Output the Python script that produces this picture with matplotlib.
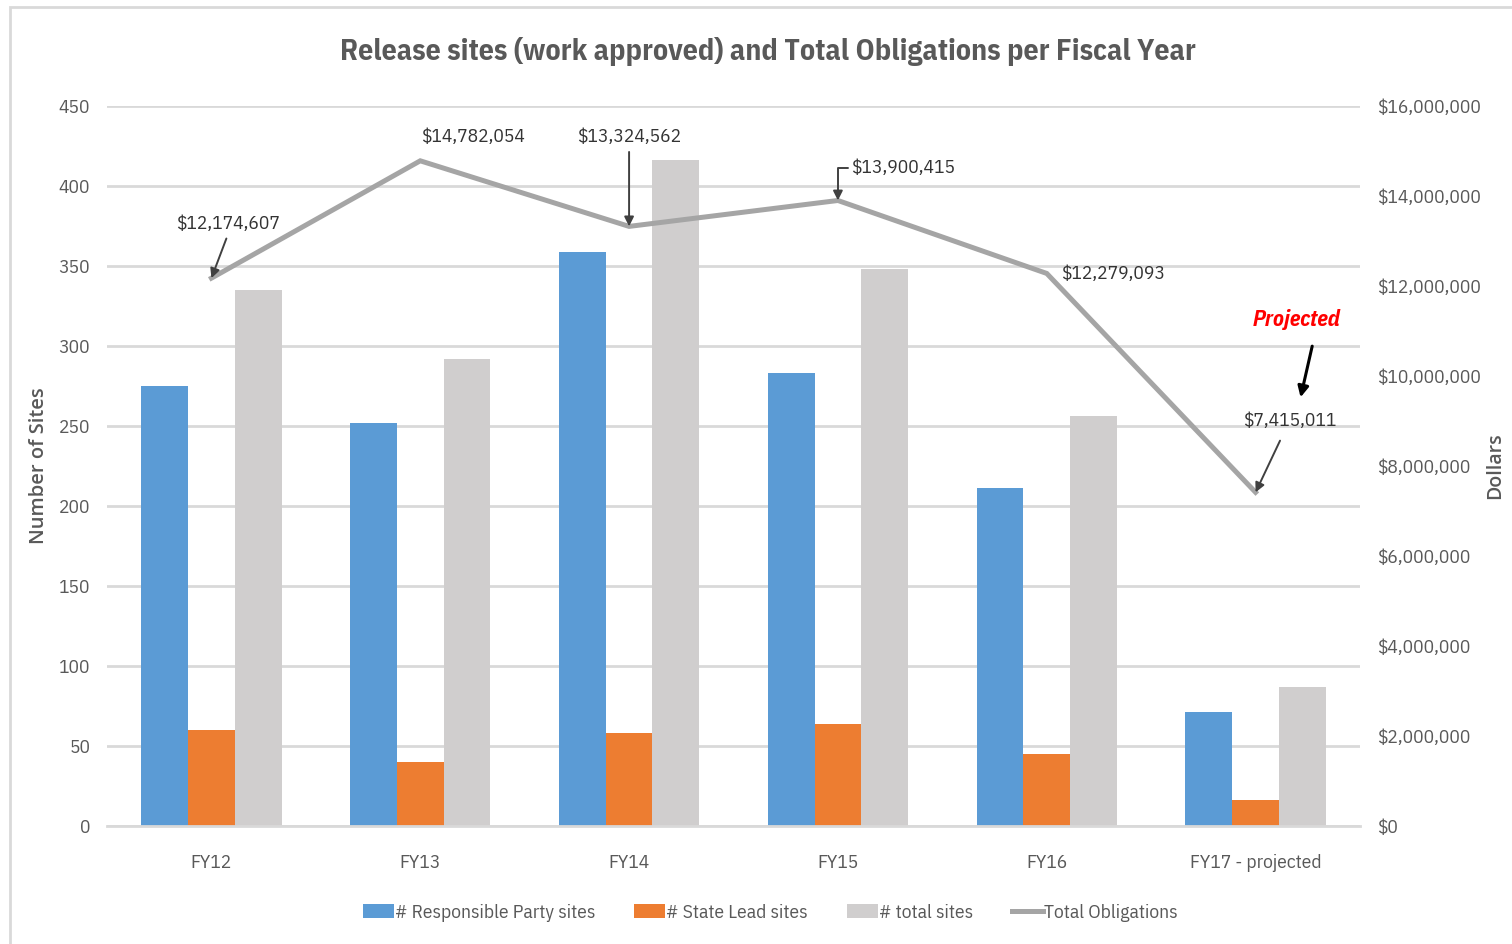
import matplotlib
matplotlib.use("Agg")
import matplotlib.pyplot as plt
import numpy as np
from matplotlib.patches import Rectangle
from matplotlib.ticker import FuncFormatter, MultipleLocator

plt.rcParams["font.family"] = ["IBM Plex Sans Condensed", "DejaVu Sans"]

# ---- data ----
years = ["FY12", "FY13", "FY14", "FY15", "FY16", "FY17 - projected"]
rp_sites = [275, 252, 359, 283, 211, 71]
state_sites = [60, 40, 58, 64, 45, 16]
total_sites = [335, 292, 416, 348, 256, 87]
obligations = [12174607, 14782054, 13324562, 13900415, 12279093, 7415011]

BLUE, ORANGE, LGRAY, LINE = "#5b9bd5", "#ed7d31", "#d0cece", "#a5a5a5"
TXT = "#595959"
GRID = "#d9d9d9"

fig = plt.figure(figsize=(15.12, 9.44), dpi=100)
ax = fig.add_axes([107 / 1512, 1 - 826 / 944, (1360 - 107) / 1512, (826 - 106) / 944])
ax2 = ax.twinx()

x = np.arange(len(years))
w = 0.224
b1 = ax.bar(x - w, rp_sites, w, color=BLUE, label="# Responsible Party sites", zorder=2)
b2 = ax.bar(x, state_sites, w, color=ORANGE, label="# State Lead sites", zorder=2)
b3 = ax.bar(x + w, total_sites, w, color=LGRAY, label="# total sites", zorder=2)
ln, = ax2.plot(x, obligations, color=LINE, lw=3.6, label="Total Obligations",
               solid_joinstyle="miter")

ax.set_xlim(-0.5, len(years) - 0.5)
ax.set_ylim(0, 450)
ax.yaxis.set_major_locator(MultipleLocator(50))
ax2.set_ylim(0, 16000000)
ax2.yaxis.set_major_locator(MultipleLocator(2000000))
ax2.yaxis.set_major_formatter(FuncFormatter(lambda v, p: f"${v:,.0f}"))

ax.grid(axis="y", color=GRID, lw=2, zorder=0)
ax.set_axisbelow(True)
for a in (ax, ax2):
    for s in a.spines.values():
        s.set_visible(False)
    a.tick_params(length=0, labelsize=14, labelcolor=TXT)
ax.spines["bottom"].set_visible(True)
ax.spines["bottom"].set_color(GRID)
ax.spines["bottom"].set_linewidth(2)
ax.set_xticks(x)
ax.set_xticklabels(years)
ax.tick_params(axis="x", pad=20)
ax.tick_params(axis="y", pad=12)
ax2.tick_params(axis="y", pad=12)

ax.set_ylabel("Number of Sites", family="Open Sans", fontsize=14.5, color=TXT,
              fontweight="semibold")
ax2.set_ylabel("Dollars", family="Open Sans", fontsize=14, color=TXT,
               fontweight="semibold")
ax.yaxis.set_label_coords(-0.046, 0.5)
ax2.yaxis.set_label_coords(1.100, 0.5)

fig.text(768 / 1512, 1 - 52 / 944,
         "Release sites (work approved) and Total Obligations per Fiscal Year",
         ha="center", va="center", fontsize=21.5, fontweight="bold", color=TXT)

# ---- value labels ----
arrow = dict(arrowstyle="-|>", color="#404040", lw=1.4, mutation_scale=14, shrinkA=2, shrinkB=0)
lab = dict(fontsize=14, color="#333333", textcoords="offset pixels")
ax2.annotate(f"${obligations[0]:,}", xy=(x[0], obligations[0]), xytext=(17, 54),
             ha="center", va="center", arrowprops=dict(arrow, relpos=(0.5, 0)), **lab)
ax2.annotate(f"${obligations[1]:,}", xy=(x[1], obligations[1]), xytext=(53, 24),
             ha="center", va="center", **lab)
ax2.annotate(f"${obligations[2]:,}", xy=(x[2], obligations[2]), xytext=(0, 89),
             ha="center", va="center", arrowprops=dict(arrow, relpos=(0.5, 0)), **lab)
ax2.annotate(f"${obligations[3]:,}", xy=(x[3], obligations[3]), xytext=(13, 32),
             ha="left", va="center",
             arrowprops=dict(arrow, relpos=(0, 0.5), shrinkA=0,
                             connectionstyle="angle,angleA=0,angleB=90,rad=0"), **lab)
ax2.annotate(f"${obligations[4]:,}", xy=(x[4], obligations[4]), xytext=(14, -1),
             ha="left", va="center", **lab)
ax2.annotate(f"${obligations[5]:,}", xy=(x[5], obligations[5]), xytext=(34, 71),
             ha="center", va="center", arrowprops=dict(arrow, relpos=(0.45, 0), shrinkA=6), **lab)

# "Projected" callout pointing at the FY17 label
proj = ax2.annotate("", xy=(x[5], obligations[5]), xytext=(45, 95), textcoords="offset pixels")
ax2.annotate("Projected", xy=(1, 1), xycoords=proj,
             xytext=(-4, 78), textcoords="offset pixels", ha="center", va="center",
             fontsize=16, color="#ff0000", fontweight="bold", style="italic",
             arrowprops=dict(arrowstyle="-|>", color="black", lw=2.2, mutation_scale=16,
                             relpos=(0.72, 0), shrinkA=10, shrinkB=0))

# legend
handles = [b1, b2, b3, ln]
fig.legend(handles, [h.get_label() for h in handles], loc="center",
           bbox_to_anchor=(770 / 1512, 1 - 913 / 944), ncol=4, frameon=False,
           fontsize=14, handlelength=1.6, handleheight=0.7, handletextpad=0.05,
           columnspacing=2.0, labelcolor=TXT)

# chart frame
fig.patches.append(Rectangle((10 / 1512, -0.05), 1.1, 1 - 7 / 944 + 0.05,
                             transform=fig.transFigure, fill=False,
                             edgecolor="#d9d9d9", lw=2))

fig.savefig("out.png", dpi=100)
